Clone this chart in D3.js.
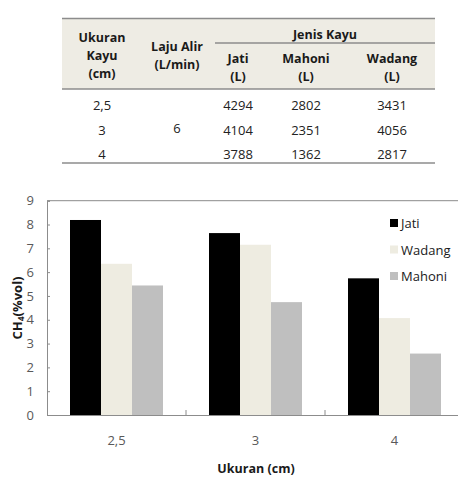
<!DOCTYPE html>
<html><head><meta charset="utf-8">
<script src="https://cdn.jsdelivr.net/npm/d3@7"></script>
<style>body{margin:0;background:#fff}svg{display:block}text{font-family:"Open Sans",sans-serif}</style>
</head><body>
<script>
const categories = ["2,5", "3", "4"];
const series = ["Jati", "Wadang", "Mahoni"];
const jati = [8.19, 7.64, 5.74];
const wadang = [6.35, 7.15, 4.07];
const mahoni = [5.44, 4.74, 2.58];
const yTicks = [0,1,2,3,4,5,6,7,8,9];
const tableSizes = ["2,5", "3", "4"];
const tableJati = [4294, 4104, 3788];
const tableMahoni = [2802, 2351, 1362];
const tableWadang = [3431, 4056, 2817];
const flowRate = "6";

const colors = {Jati:"#000000", Wadang:"#eeece1", Mahoni:"#bfbfbf"};
const W = 458, H = 479;
const svg = d3.select("body").append("svg").attr("width", W).attr("height", H);

// ---- Table ----
const tL = 62, tR = 435, tTop = 18.5, tHead = 89, tBot = 163;
const t = svg.append("g");
t.append("rect").attr("x", tL).attr("y", tTop).attr("width", tR - tL).attr("height", tHead - tTop).attr("fill", "#eeece4");
const lineC = "#8c8c8c";
[[tL, tR, tTop], [215, tR, 43], [tL, tR, tHead], [tL, tR, tBot]].forEach(([a,b,y]) =>
  t.append("line").attr("x1", a).attr("x2", b).attr("y1", y).attr("y2", y).attr("stroke", lineC).attr("stroke-width", 1.5));
const colX = {size:102, flow:177, jati:238, mahoni:306, wadang:392};
function txt(x, y, s, bold){
  t.append("text").attr("x", x).attr("y", y).attr("text-anchor","middle").attr("dominant-baseline","central")
   .attr("font-size", bold ? 12.5 : 13).attr("font-weight", bold ? 700 : 400).attr("fill", bold ? "#1a1a1a" : "#222").text(s);
}
txt(colX.size, 37, "Ukuran", true); txt(colX.size, 55, "Kayu", true); txt(colX.size, 73, "(cm)", true);
txt(colX.flow, 46, "Laju Alir", true); txt(colX.flow, 64, "(L/min)", true);
txt(325, 34, "Jenis Kayu", true);
txt(colX.jati, 58, "Jati", true); txt(colX.jati, 76, "(L)", true);
txt(colX.mahoni, 58, "Mahoni", true); txt(colX.mahoni, 76, "(L)", true);
txt(colX.wadang, 58, "Wadang", true); txt(colX.wadang, 76, "(L)", true);
const rowY = d3.scalePoint().domain(tableSizes).range([105, 154]);
tableSizes.forEach((s, i) => {
  const y = rowY(s);
  txt(colX.size, y, s);
  txt(colX.jati, y, tableJati[i]);
  txt(colX.mahoni, y, tableMahoni[i]);
  txt(colX.wadang, y, tableWadang[i]);
});
txt(colX.flow, 128, flowRate);

// ---- Chart ----
const pL = 47, pBand = 139, pTop = 200.7, pBot = 415;
const x = d3.scaleBand().domain(categories).range([pL, pL + pBand * 3]).paddingInner(0).paddingOuter(0);
const xs = d3.scaleBand().domain(series).range([23, pBand - 23]);
const y = d3.scaleLinear().domain([0, 9]).range([pBot, pTop]);
const axisC = "#8c8c8c", labC = "#595959";
const data = {Jati: jati, Wadang: wadang, Mahoni: mahoni};

const c = svg.append("g");
// top line
c.append("line").attr("x1", pL).attr("x2", W).attr("y1", y(9)).attr("y2", y(9)).attr("stroke", axisC).attr("stroke-width", 1);

categories.forEach((cat, i) => {
  series.forEach(s => {
    c.append("rect").attr("x", x(cat) + xs(s)).attr("width", xs.bandwidth())
      .attr("y", y(data[s][i])).attr("height", y(0) - y(data[s][i])).attr("fill", colors[s]);
  });
});

// y axis
const ya = c.append("g").attr("transform", `translate(${pL},0)`)
  .call(d3.axisLeft(y).tickValues(yTicks).tickSize(-3).tickPadding(13).tickFormat(d3.format("d")));
ya.select(".domain").attr("stroke", axisC);
ya.selectAll(".tick line").attr("stroke", axisC);
ya.selectAll(".tick text").attr("fill", labC).attr("font-size", 13).attr("font-family", '"Open Sans",sans-serif');

// x axis
const xa = c.append("g").attr("transform", `translate(0,${pBot})`)
  .call(d3.axisBottom(x).tickSize(0).tickPadding(21));
xa.select(".domain").attr("stroke", axisC).attr("d", `M${pL},0.5H${W}`);
xa.selectAll(".tick text").attr("fill", labC).attr("font-size", 13).attr("font-family", '"Open Sans",sans-serif');
// category separator ticks
c.selectAll(".sep").data(categories.slice(1)).enter().append("line")
  .attr("x1", d => x(d)).attr("x2", d => x(d)).attr("y1", pBot - 5).attr("y2", pBot).attr("stroke", axisC);

// titles
c.append("text").attr("x", 256).attr("y", 468).attr("text-anchor","middle").attr("dominant-baseline","central")
  .attr("font-size", 12.5).attr("font-weight", 700).attr("fill", "#1a1a1a").text("Ukuran (cm)");
const yt = c.append("text").attr("transform", `translate(17,308) rotate(-90)`).attr("text-anchor","middle").attr("dominant-baseline","central")
  .attr("font-size", 13).attr("font-weight", 700).attr("fill", "#1a1a1a");
yt.append("tspan").text("CH");
yt.append("tspan").attr("font-size", 8.5).attr("dy", 3).text("4");
yt.append("tspan").attr("dy", -3).text("(%vol)");

// legend
const lg = c.append("g").attr("transform", "translate(390,0)");
const ly = d3.scalePoint().domain(series).range([223, 276]);
series.forEach(s => {
  lg.append("rect").attr("x", 0).attr("y", ly(s) - 4).attr("width", 8).attr("height", 8).attr("fill", colors[s]);
  lg.append("text").attr("x", 11).attr("y", ly(s)).attr("dominant-baseline","central")
    .attr("font-size", 13).attr("fill", "#1a1a1a").text(s);
});
</script>
</body></html>
